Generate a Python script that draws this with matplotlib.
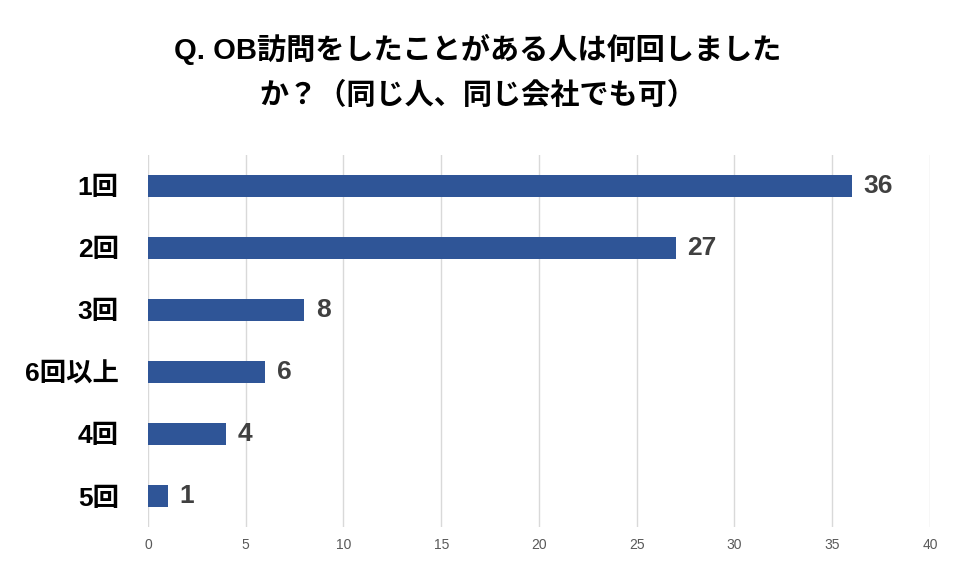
import matplotlib
matplotlib.use("Agg")
import matplotlib.pyplot as plt

categories = ["1回", "2回", "3回", "6回以上", "4回", "5回"]
values = [36, 27, 8, 6, 4, 1]
xticks = [0, 5, 10, 15, 20, 25, 30, 35, 40]
title = "Q. OB訪問をしたことがある人は何回しました\nか？（同じ人、同じ会社でも可）"

plt.rcParams["font.family"] = ["Liberation Sans", "Noto Sans CJK JP"]
fig = plt.figure(figsize=(9.56, 5.70), dpi=100)
ax = fig.add_axes([0.1548, 0.0754, 0.818, 0.653])
y = list(range(len(categories)))
ax.barh(y, values, height=0.35, color="#2F5597", zorder=3)
ax.set_ylim(len(categories) - 0.5, -0.5)
ax.set_xlim(0, 40)
ax.set_xticks(xticks)
ax.set_xticklabels([str(t) for t in xticks], fontsize=10, color="#595959")
ax.set_yticks(y)
ax.set_yticklabels(categories, fontsize=19, fontweight="bold", color="black")
ax.tick_params(length=0, axis="both")
ax.tick_params(axis="y", pad=21)
ax.tick_params(axis="x", pad=8)
ax.grid(axis="x", color="#D9D9D9", linewidth=1, zorder=0)
for s in ax.spines.values():
    s.set_visible(False)
for yi, v in zip(y, values):
    ax.text(v + 0.6, yi, str(v), va="center", ha="left", fontsize=19,
            fontweight="bold", color="#404040")
fig.text(0.5, 0.874, title, ha="center", va="center", fontsize=21,
         fontweight="bold", linespacing=1.75)
fig.savefig("out.png", dpi=100)
